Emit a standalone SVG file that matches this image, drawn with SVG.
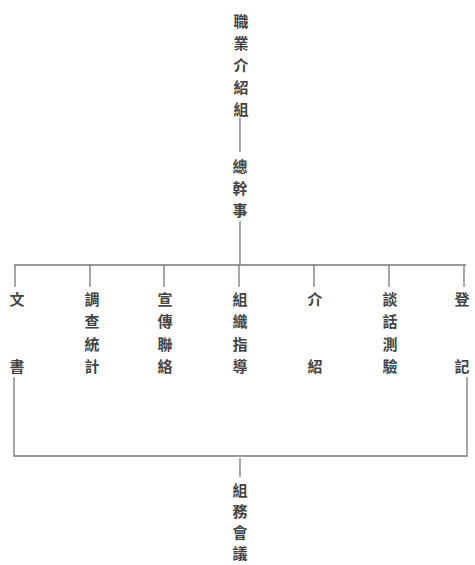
<svg xmlns="http://www.w3.org/2000/svg" width="475" height="565" viewBox="0 0 475 565">
<style>
text{font-family:"Noto Sans CJK TC","Noto Sans CJK SC",serif;font-size:15px;font-weight:bold;fill:#444;text-anchor:middle;dominant-baseline:central}
.c line,.c polyline{stroke:#777;stroke-width:1.3;fill:none}
</style>
<rect width="475" height="565" fill="#fff"/>
<g class="c" id="connectors">
<line x1="240" y1="118" x2="240" y2="152"/>
<line x1="240" y1="221" x2="240" y2="265"/>
<line x1="14" y1="265" x2="466" y2="265"/>
<line x1="15" y1="265" x2="15" y2="287"/>
<line x1="90" y1="265" x2="90" y2="287"/>
<line x1="164" y1="265" x2="164" y2="287"/>
<line x1="239" y1="265" x2="239" y2="287"/>
<line x1="314" y1="265" x2="314" y2="287"/>
<line x1="389" y1="265" x2="389" y2="287"/>
<line x1="464" y1="265" x2="464" y2="287"/>
<polyline points="14,377 14,456 467,456 467,377"/>
<line x1="240" y1="458" x2="240" y2="477"/>
</g>
<g id="n-top"><text x="241" y="20">職</text><text x="241" y="42">業</text><text x="241" y="64">介</text><text x="241" y="86">紹</text><text x="241" y="108">組</text></g>
<g id="n-gm"><text x="240" y="165">總</text><text x="240" y="187">幹</text><text x="240" y="209">事</text></g>
<g id="n1"><text x="17" y="298">文</text><text x="17" y="365">書</text></g>
<g id="n2"><text x="92" y="298">調</text><text x="92" y="320">查</text><text x="92" y="343">統</text><text x="92" y="365">計</text></g>
<g id="n3"><text x="165" y="298">宣</text><text x="165" y="320">傳</text><text x="165" y="343">聯</text><text x="165" y="365">絡</text></g>
<g id="n4"><text x="240" y="298">組</text><text x="240" y="320">織</text><text x="240" y="343">指</text><text x="240" y="365">導</text></g>
<g id="n5"><text x="315" y="298">介</text><text x="315" y="365">紹</text></g>
<g id="n6"><text x="390" y="298">談</text><text x="390" y="320">話</text><text x="390" y="343">測</text><text x="390" y="365">驗</text></g>
<g id="n7"><text x="462" y="298">登</text><text x="462" y="365">記</text></g>
<g id="n-bottom"><text x="240" y="489">組</text><text x="240" y="510">務</text><text x="240" y="531">會</text><text x="240" y="552">議</text></g>
</svg>
